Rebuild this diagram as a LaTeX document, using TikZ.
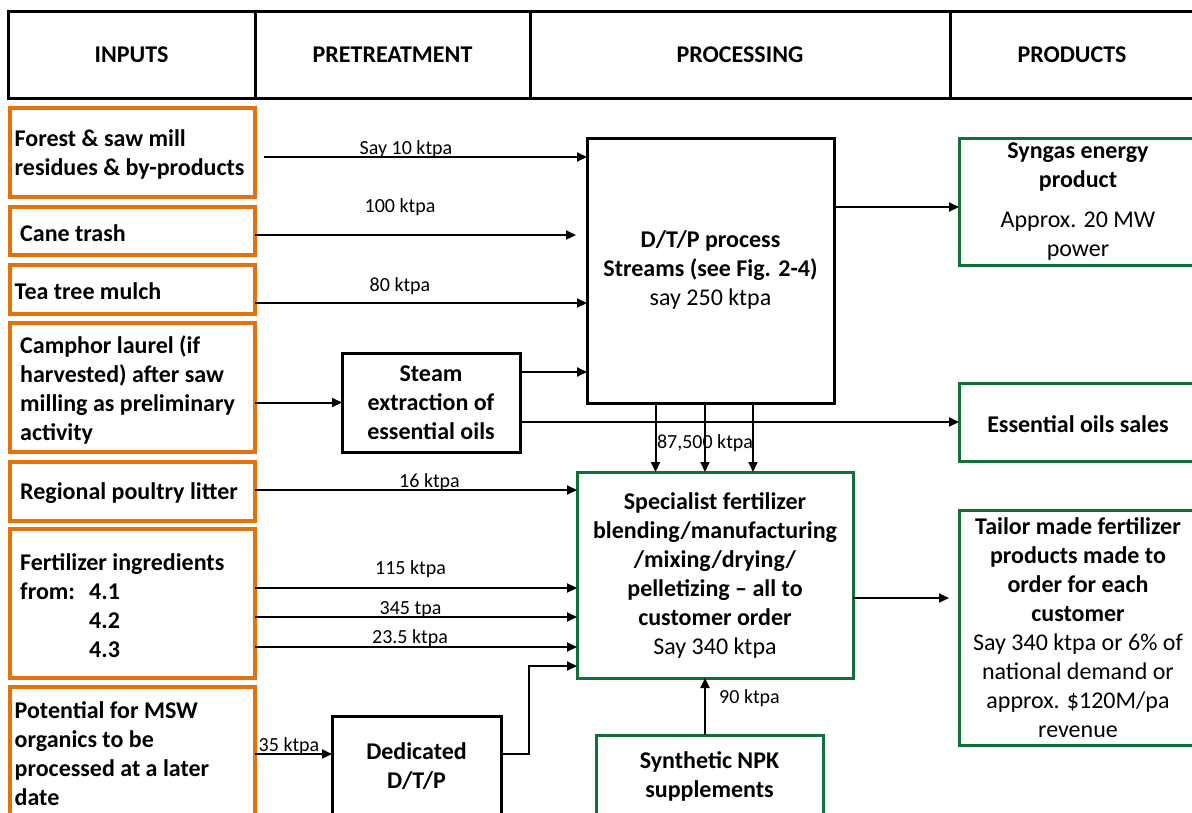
\documentclass[tikz,border=0pt]{standalone}
\usepackage{fontspec}
\setmainfont{Carlito}
\usetikzlibrary{arrows.meta}
\definecolor{inorange}{RGB}{228,112,14}
\definecolor{outgreen}{RGB}{16,112,58}
\begin{document}
\begin{tikzpicture}[x=1pt,y=-1pt,
  every node/.style={font=\fontsize{24}{29}\selectfont},
  hdr/.style={draw, line width=3pt, minimum height=87pt, inner sep=0pt,
    font=\fontsize{24}{29}\selectfont\bfseries},
  inbox/.style={draw=inorange, line width=3.5pt, minimum width=245pt,
    inner sep=0pt, outer sep=0pt},
  intext/.style={anchor=west, align=left, inner sep=0pt, yshift=-2pt,
    font=\fontsize{24}{29}\selectfont\bfseries},
  procbox/.style={draw, line width=3pt, inner sep=0pt, outer sep=0pt,
    align=center, font=\fontsize{24}{29}\selectfont\bfseries,
    execute at begin node={\rule{0pt}{22pt}}},
  prodbox/.style={draw=outgreen, line width=3pt, inner sep=0pt, outer sep=0pt,
    align=center, execute at begin node={\rule{0pt}{22pt}}},
  flow/.style={line width=2pt, -{Triangle[length=10pt,width=9pt]}},
  qty/.style={font=\fontsize{20}{24}\selectfont, inner sep=0pt},
]
\fill[white] (0,0) rectangle (1192,812);
\useasboundingbox (0,0) rectangle (1192,812);

% column headings
\node[hdr, minimum width=247pt] (hinputs) at (131.5,54.5) {INPUTS};
\node[hdr, minimum width=275pt] (hpre)    at (392.5,54.5) {PRETREATMENT};
\node[hdr, minimum width=420pt] (hproc)   at (740,54.5)   {PROCESSING};
\node[hdr, minimum width=244pt] (hprod)   at (1072,54.5)  {PRODUCTS};

% input feedstocks
\node[inbox, minimum height=89pt]  (forest)  at (132.5,152.5) {};
\node[intext] (forestt) at ([xshift=4.5pt]forest.west) {Forest \& saw mill\\residues \& by-products};
\node[inbox, minimum height=48pt]  (cane)    at (132.5,231) {};
\node[intext] (canet) at ([xshift=10pt]cane.west) {Cane trash};
\node[inbox, minimum height=49pt]  (tea)     at (132.5,289.5) {};
\node[intext] (teat) at ([xshift=4.5pt]tea.west) {Tea tree mulch};
\node[inbox, minimum height=129pt] (camphor) at (132.5,387.5) {};
\node[intext] (camphort) at ([xshift=10pt]camphor.west) {Camphor laurel (if\\harvested) after saw\\milling as preliminary\\activity};
\node[inbox, minimum height=59pt]  (poultry) at (132.5,491.5) {};
\node[intext] (poultryt) at ([xshift=10pt]poultry.west) {Regional poultry litter};
\node[inbox, minimum height=149pt] (fert)    at (132.5,603.5) {};
\node[intext] (fertt) at ([xshift=10pt]fert.west) {Fertilizer ingredients\\\makebox[69pt][l]{from:}4.1\\\hspace*{69pt}4.2\\\hspace*{69pt}4.3};
\node[inbox, minimum height=129pt] (msw)     at (132.5,751.5) {};
\node[intext] (mswt) at ([xshift=4.5pt]msw.west) {Potential for MSW\\organics to be\\processed at a later\\date};

% pretreatment and processing
\node[procbox, minimum width=178pt, minimum height=99pt]  (steam) at (431,402.5) {Steam\\extraction of\\essential oils};
\node[procbox, minimum width=169pt, minimum height=100pt] (ded)   at (416.5,766) {Dedicated\\D/T/P};
\node[procbox, minimum width=247pt, minimum height=265pt] (dtp)   at (710.5,270.5)
  {D/T/P process\\Streams (see Fig. 2-4)\\\mdseries say 250 ktpa};
\node[prodbox, minimum width=276pt, minimum height=206pt] (spec)  at (715,575)
  {\textbf{Specialist fertilizer}\\\textbf{blending/manufacturing}\\\textbf{/mixing/drying/}\\\textbf{pelletizing – all to}\\\textbf{customer order}\\Say 340 ktpa};
\node[prodbox, minimum width=227pt, minimum height=82pt]  (npk)   at (709.5,776)
  {\textbf{Synthetic NPK}\\\textbf{supplements}};

% products
\node[prodbox, minimum width=238pt, minimum height=127pt] (syngas) at (1078,201.5)
  {\textbf{Syngas energy}\\\textbf{product}\\[11pt]Approx. 20 MW\\power};
\node[prodbox, minimum width=238pt, minimum height=78pt]  (oils)   at (1078,422)
  {\textbf{Essential oils sales}};
\node[prodbox, minimum width=238pt, minimum height=235pt] (tailor) at (1078,627.5)
  {\textbf{Tailor made fertilizer}\\\textbf{products made to}\\\textbf{order for each}\\\textbf{customer}\\Say 340 ktpa or 6\% of\\national demand or\\approx. \$120M/pa\\revenue};

% flows into D/T/P
\draw[flow, shorten <=9pt] (forest.east |- 0,157) -- (dtp.west |- 0,157);
\draw[flow, shorten >=11pt] (cane.east |- 0,235) -- (dtp.west |- 0,235);
\draw[flow] (tea.east |- 0,303) -- (dtp.west |- 0,303);
\draw[flow] (camphor.east |- steam.west) -- (steam.west);
\draw[flow] (steam.east |- 0,372) -- (dtp.west |- 0,372);
\draw[flow] (steam.east |- 0,422) -- (oils.west);
\draw[flow] (dtp.east |- 0,207) -- (syngas.west |- 0,207);

% D/T/P output to the fertilizer plant
\draw[flow] (dtp.south -| 655.5,0) -- (spec.north -| 655.5,0);
\draw[flow] (dtp.south -| 705,0)   -- (spec.north -| 705,0);
\draw[flow] (dtp.south -| 753,0)   -- (spec.north -| 753,0);

% flows into the fertilizer plant
\draw[flow] (poultry.east |- 0,490) -- (spec.west |- 0,490);
\draw[flow] (fert.east |- 0,588) -- (spec.west |- 0,588);
\draw[flow] (fert.east |- 0,617) -- (spec.west |- 0,617);
\draw[flow] (fert.east |- 0,647) -- (spec.west |- 0,647);
\draw[flow] (msw.east |- 0,754) -- (ded.west |- 0,754);
\coordinate (dedbend) at (529,754);
\draw[flow] (ded.east |- dedbend) -- (dedbend) |- (spec.west |- 0,666);
\draw[flow] (npk.north -| 705,0) -- (spec.south -| 705,0);
\draw[flow, shorten >=10pt] (spec.east |- 0,598) -- (tailor.west |- 0,598);

% quantities
\node[qty] (q1) at (406,149) {Say 10 ktpa};
\node[qty] (q2) at (400,207) {100 ktpa};
\node[qty] (q3) at (400,286) {80 ktpa};
\node[qty] (q4) at (705,443) {87,500 ktpa};
\node[qty] (q5) at (429.5,482) {16 ktpa};
\node[qty] (q6) at (410.5,569) {115 ktpa};
\node[qty] (q7) at (410.5,610) {345 tpa};
\node[qty] (q8) at (410,638) {23.5 ktpa};
\node[qty] (q9) at (289,746) {35 ktpa};
\node[qty, anchor=west] (q10) at (719,698) {90 ktpa};
\end{tikzpicture}
\end{document}
